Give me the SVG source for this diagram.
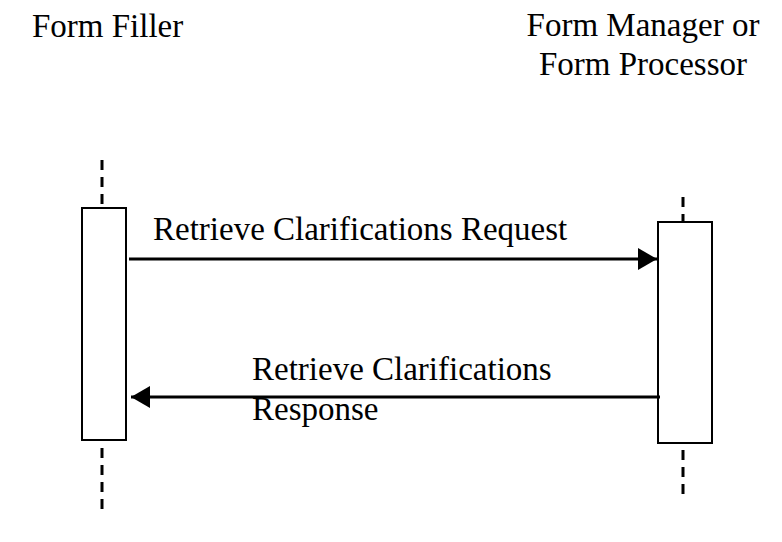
<svg xmlns="http://www.w3.org/2000/svg" width="782" height="542" viewBox="0 0 782 542">
<style>
text{font-family:"Liberation Serif","Times New Roman",serif;font-size:33px;fill:#000}
.act{fill:#fff;stroke:#000;stroke-width:2}
.life{stroke:#000;stroke-width:3;stroke-dasharray:10 7;fill:none}
.msg{stroke:#000;stroke-width:3;fill:none}
</style>
<defs>
<marker id="ah" markerUnits="userSpaceOnUse" markerWidth="20" markerHeight="22" refX="19" refY="11" orient="auto">
<path d="M0,0 L19,11 L0,22 Z" fill="#000"/>
</marker>
</defs>
<g id="formFiller">
<text x="32" y="37">Form Filler</text>
<line class="life" x1="102" y1="160" x2="102" y2="207"/>
<rect class="act" x="82" y="208" width="44" height="232"/>
<line class="life" x1="102" y1="448" x2="102" y2="509"/>
</g>
<g id="formManager">
<text x="643" y="36" text-anchor="middle">Form Manager or</text>
<text x="643" y="75" text-anchor="middle">Form Processor</text>
<line class="life" x1="683" y1="197" x2="683" y2="221"/>
<rect class="act" x="658" y="222" width="54" height="221"/>
<line class="life" x1="683" y1="450" x2="683" y2="496"/>
</g>
<g id="connectors">
<line class="msg" x1="129" y1="259" x2="657" y2="259" marker-end="url(#ah)"/>
<text x="153" y="240">Retrieve Clarifications Request</text>
<line class="msg" x1="660" y1="397" x2="131" y2="397" marker-end="url(#ah)"/>
<text x="252" y="380">Retrieve Clarifications</text>
<text x="252" y="420">Response</text>
</g>
</svg>
